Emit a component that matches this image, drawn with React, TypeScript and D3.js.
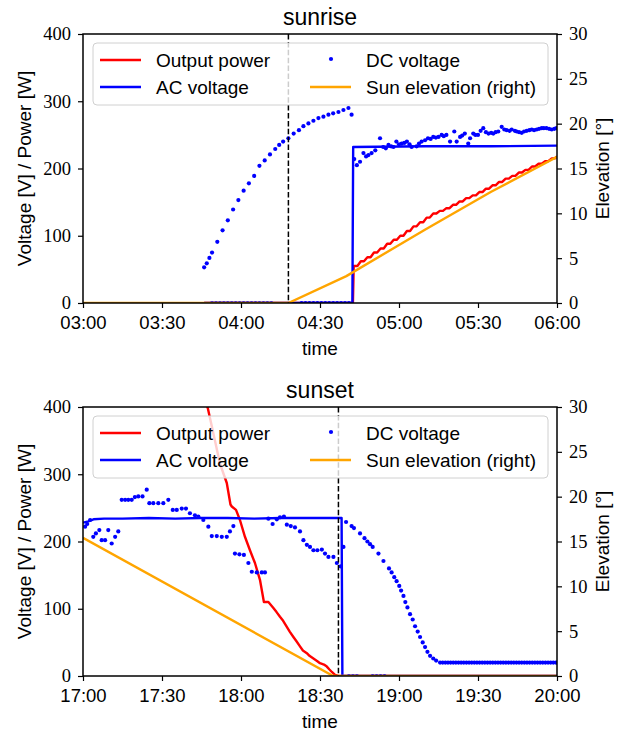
import React, { useEffect, useRef } from 'react'
import * as d3 from 'd3'

type Pt = [number, number]

// times are minutes after the start of each 3-hour window (03:00 and 17:00)
const sunriseOutputPower: Pt[] = [
	[46, 0], [102.5, 0], [102.8, 55], [104.2, 55], [105.5, 62], [106.7, 62], [108, 68], [109.2, 68], [110.5, 75], [111.7, 75],
	[113, 81], [114.2, 81], [115.5, 88], [116.7, 88], [118, 94], [119.2, 94], [120.5, 100], [121.7, 100], [123, 107], [124.2, 107],
	[125.5, 114], [126.7, 114], [128, 120], [129.2, 120], [130.5, 127], [131.7, 127], [133, 133], [134.2, 133], [135.5, 137], [136.7, 137],
	[138, 141], [139.2, 141], [140.5, 146], [141.7, 146], [143, 151], [144.2, 151], [145.5, 156], [146.7, 156], [148, 160], [149.2, 160],
	[150.5, 165], [151.7, 165], [153, 170], [154.2, 170], [155.5, 175], [156.7, 175], [158, 180], [159.2, 180], [160.5, 185], [161.7, 185],
	[163, 189], [164.2, 189], [165.5, 194], [166.7, 194], [168, 198], [169.2, 198], [170.5, 203], [171.7, 203], [173, 207], [174.2, 207],
	[175.5, 211], [176.7, 211], [178, 215], [179.2, 215], [180, 218],
]
const sunriseAcVoltage: Pt[] = [[46, 0], [102.3, 0], [102.6, 232], [130, 233], [155, 233], [180, 234]]
const sunriseDcVoltage: Pt[] = [
	[46, 53], [47, 59], [48, 67], [49, 75], [51, 91], [53, 108], [55, 123], [57, 139], [59, 153], [61, 167],
	[63, 178], [65, 189], [67, 204], [69, 212], [71, 221], [73, 229], [74.5, 235], [76, 240], [78, 245], [80, 252],
	[82, 257], [83.7, 263], [85.6, 267], [87.5, 271], [89.4, 275], [91.3, 277], [93.2, 280], [95, 282], [97, 284], [98.9, 287],
	[100.8, 290], [102, 280], [103, 214], [104, 205], [105.2, 210], [106.5, 223], [107.5, 218], [108.4, 220], [109.6, 223], [111, 227],
	[112.8, 245], [114, 232], [115, 230], [116, 235], [117, 233], [117.9, 232], [119, 240], [120, 236], [121, 237], [122, 238],
	[123, 240], [124, 236], [124.8, 232], [126.7, 233], [127.6, 237], [128.6, 240], [129.9, 242], [131, 245], [132, 244], [133, 247],
	[134, 246], [135, 247], [136.2, 250], [137, 248], [138, 250], [139.4, 240], [141, 255], [141.9, 240], [143.2, 247], [144, 249],
	[145, 252], [146.3, 237], [147, 245], [148.2, 252], [149, 250], [150, 250], [151, 256], [152, 260], [153, 254], [154, 252],
	[155, 253], [155.8, 252], [156.7, 254], [157.7, 255], [159, 262], [160, 258], [160.9, 257], [162, 256], [162.8, 258], [164, 256],
	[164.7, 255], [165.6, 254], [166.6, 253], [167.5, 255], [168.5, 256], [169.5, 257], [170.4, 258], [171.3, 257], [172.3, 258], [173.2, 259],
	[174.2, 260], [175, 260], [176, 260], [177, 259], [178, 258], [179, 259], [179.8, 260],
]
// readings where the DC voltage was logged as 0
const sunriseDcOff = [49, 50.5, 52, 53.5, 55, 56.5, 58, 59.5, 61, 62.5, 64, 65.5, 67, 68.5, 70, 71.5, 83, 84.5, 86, 87.5, 89, 90.5, 92, 93.5, 95, 96.5, 98, 99.5, 101]
const sunriseElevation: Pt[] = [[0, 0], [78, 0], [100, 3.0], [130, 8.2], [155, 12.4], [180, 16.3]]
const sunriseMark = 78

const sunsetOutputPower: Pt[] = [
	[30, 640], [40, 500], [47.4, 398], [49.5, 361], [52, 316], [54.6, 287], [56, 255], [56.5, 252], [58.1, 247], [59.6, 232],
	[61.5, 207], [63.4, 187], [65.3, 168], [67.2, 143], [68.7, 110], [70.4, 110], [72.3, 101], [73.5, 95], [74.8, 88], [76, 82],
	[77.4, 73], [78.5, 66], [79.9, 58], [81, 52], [82.4, 44], [83.5, 38], [85, 34], [86, 30], [87.5, 26], [89, 22],
	[90, 19], [91.5, 17], [92.6, 14], [93.5, 10], [94.5, 6], [95.7, 1.5], [97, 0], [180, 0],
]
const sunsetAcVoltage: Pt[] = [
	[0, 228], [2, 230], [4, 233], [8, 234], [15, 234], [25, 235], [35, 234], [45, 235], [55, 235], [65, 234],
	[75, 235], [85, 235], [98.2, 235], [98.5, 0], [180, 0],
]
const sunsetDcVoltage: Pt[] = [
	[0.8, 222], [1.6, 226], [2.7, 232], [3.9, 207], [4.9, 212], [6.2, 217], [7.1, 202], [8.4, 202], [9.6, 217], [10.9, 197],
	[12.2, 207], [13.4, 215], [14.7, 262], [16, 262], [17.2, 262], [18.5, 262], [19.7, 266], [21, 267], [22.6, 267], [24.2, 277],
	[25.2, 257], [26.7, 257], [28.6, 257], [30.5, 257], [32.4, 262], [34.1, 247], [35.6, 247], [37.5, 249], [39.1, 249], [40.6, 242],
	[42.5, 239], [43.8, 237], [45.7, 232], [47.6, 222], [48.9, 208], [50.8, 208], [52.7, 207], [54.6, 207], [55.8, 215], [57.1, 223],
	[57.7, 182], [59.4, 181], [61.1, 180], [62.8, 168], [64.1, 155], [66, 154], [67.9, 154], [69.1, 154], [70.4, 234], [72, 226],
	[73.6, 233], [74.8, 236], [76.3, 237], [77.4, 225], [78.9, 223], [80.5, 221], [82.4, 215], [83.7, 202], [85, 195], [86.2, 192],
	[87.5, 187], [89, 187], [90.7, 188], [91.9, 182], [93.2, 177], [95.1, 177], [96.4, 168], [97.9, 163], [98.9, 192], [99.9, 229],
	[102, 223], [102.9, 220], [105.2, 212], [106.9, 205], [108, 200], [109, 196], [110, 192], [112.2, 182], [114.1, 171], [116.2, 160],
	[117.2, 154], [118.2, 147], [119.1, 141], [120.1, 134], [120.8, 127], [121.7, 119], [122.4, 110], [123.2, 102], [124.2, 92], [125.2, 84],
	[126.1, 74], [127.1, 66], [128, 58], [129, 50], [129.9, 43], [130.8, 36], [131.8, 30], [133, 26], [134.1, 23], [135.6, 20],
	[136.6, 20], [137.6, 20], [138.6, 20], [139.6, 20], [140.6, 20], [141.6, 20], [142.6, 20], [143.6, 20], [144.6, 20], [145.6, 20],
	[146.6, 20], [147.6, 20], [148.6, 20], [149.6, 20], [150.6, 20], [151.6, 20], [152.6, 20], [153.6, 20], [154.6, 20], [155.6, 20],
	[156.6, 20], [157.6, 20], [158.6, 20], [159.6, 20], [160.6, 20], [161.6, 20], [162.6, 20], [163.6, 20], [164.6, 20], [165.6, 20],
	[166.6, 20], [167.6, 20], [168.6, 20], [169.6, 20], [170.6, 20], [171.6, 20], [172.6, 20], [173.6, 20], [174.6, 20], [175.6, 20],
	[176.6, 20], [177.6, 20], [178.6, 20], [179.6, 20],
]
const sunsetDcOff = [101, 102.5, 104, 110, 111.5, 113, 114.5]
const sunsetElevation: Pt[] = [[0, 15.4], [95, 0], [180, 0]]
const sunsetMark = 97

const leftTicks = [0, 100, 200, 300, 400]
const rightTicks = [0, 5, 10, 15, 20, 25, 30]
const legendLabels = ['Output power', 'AC voltage', 'DC voltage', 'Sun elevation (right)']

const SANS = 'Liberation Sans, Arial, Helvetica, sans-serif'
const SERIF = 'Liberation Serif, Times New Roman, serif'
const LEFT = 83, RIGHT = 557
const LW = 2.4

function drawPanel(svg, p) {
	const start = new Date(2021, 5, 1, p.startHour, 0)
	const t = (m: number) => new Date(start.getTime() + m * 60000)
	const x = d3.scaleTime().domain([t(0), t(180)]).range([LEFT, RIGHT])
	const y = d3.scaleLinear().domain([0, 400]).range([p.bottom, p.top])
	const y2 = d3.scaleLinear().domain([0, 30]).range([p.bottom, p.top])

	const g = svg.append('g')
	const clipId = 'clip-' + p.key
	g.append('clipPath').attr('id', clipId)
		.append('rect').attr('x', LEFT).attr('y', p.top).attr('width', RIGHT - LEFT).attr('height', p.bottom - p.top)

	const plot = g.append('g').attr('clip-path', `url(#${clipId})`)
	const line = d3.line<Pt>().x(d => x(t(d[0]))).y(d => y(d[1]))
	const line2 = d3.line<Pt>().x(d => x(t(d[0]))).y(d => y2(d[1]))

	plot.append('path').datum(p.power).attr('d', line)
		.attr('fill', 'none').attr('stroke', '#ff0000').attr('stroke-width', LW).attr('stroke-linejoin', 'round')
	plot.append('path').datum(p.ac).attr('d', line)
		.attr('fill', 'none').attr('stroke', '#0000ff').attr('stroke-width', LW).attr('stroke-linejoin', 'round')

	const dots: Pt[] = p.dc.concat(p.dcOff.map(m => [m, 0] as Pt))
	plot.selectAll('circle.dc').data(dots).join('circle')
		.attr('class', 'dc')
		.attr('cx', d => x(t(d[0])))
		.attr('cy', d => y(d[1]))
		.attr('r', 2.1)
		.attr('fill', '#0000ff')

	plot.append('path').datum(p.elevation).attr('d', line2)
		.attr('fill', 'none').attr('stroke', '#ffa500').attr('stroke-width', LW).attr('stroke-linejoin', 'round')

	// vertical marker
	g.append('line')
		.attr('x1', x(t(p.mark))).attr('x2', x(t(p.mark)))
		.attr('y1', p.top).attr('y2', p.bottom)
		.attr('stroke', '#000').attr('stroke-width', 1.5).attr('stroke-dasharray', '5.5,2.4')

	// axes
	const styleAxis = (a, family) => {
		a.select('.domain').remove()
		a.selectAll('line').attr('stroke', '#000').attr('stroke-width', 1.2)
		a.selectAll('text').attr('font-family', family).attr('font-size', 18.5).attr('fill', '#000')
	}
	const ax = g.append('g').attr('transform', `translate(0,${p.bottom})`)
		.call(d3.axisBottom(x).ticks(d3.timeMinute.every(30)).tickFormat(d3.timeFormat('%H:%M')).tickSize(5).tickPadding(8))
	styleAxis(ax, SANS)
	const ay = g.append('g').attr('transform', `translate(${LEFT},0)`)
		.call(d3.axisLeft(y).tickValues(leftTicks).tickFormat(d3.format('d')).tickSize(5).tickPadding(7))
	styleAxis(ay, SERIF)
	const ay2 = g.append('g').attr('transform', `translate(${RIGHT},0)`)
		.call(d3.axisRight(y2).tickValues(rightTicks).tickFormat(d3.format('d')).tickSize(5).tickPadding(7))
	styleAxis(ay2, SERIF)

	g.append('rect')
		.attr('x', LEFT).attr('y', p.top).attr('width', RIGHT - LEFT).attr('height', p.bottom - p.top)
		.attr('fill', 'none').attr('stroke', '#000').attr('stroke-width', 1.5)

	// titles and labels
	g.append('text').attr('x', (LEFT + RIGHT) / 2).attr('y', p.top - 9)
		.attr('text-anchor', 'middle').attr('font-family', SANS).attr('font-size', 23).text(p.title)
	g.append('text').attr('x', (LEFT + RIGHT) / 2).attr('y', p.bottom + 52)
		.attr('text-anchor', 'middle').attr('font-family', SANS).attr('font-size', 19).text('time')
	const midY = (p.top + p.bottom) / 2
	g.append('text').attr('transform', `translate(31,${midY}) rotate(-90)`)
		.attr('text-anchor', 'middle').attr('font-family', SANS).attr('font-size', 19).text('Voltage [V] / Power [W]')
	g.append('text').attr('transform', `translate(609,${midY}) rotate(-90)`)
		.attr('text-anchor', 'middle').attr('font-family', SANS).attr('font-size', 19).text('Elevation [°]')

	// legend
	const lg = g.append('g').attr('transform', `translate(0,${p.top})`)
	lg.append('rect').attr('x', 93).attr('y', 9).attr('width', 455).attr('height', 62).attr('rx', 4)
		.attr('fill', '#fff').attr('fill-opacity', 0.8).attr('stroke', '#d0d0d0').attr('stroke-width', 1)
	const rows = [26, 53]
	const entry = (i, hx, tx, color, kind) => {
		const ry = rows[i % 2]
		if (kind === 'line') {
			lg.append('line').attr('x1', hx).attr('x2', hx + 41).attr('y1', ry).attr('y2', ry)
				.attr('stroke', color).attr('stroke-width', LW)
		} else {
			lg.append('circle').attr('cx', hx + 21).attr('cy', ry - 1).attr('r', 2.1).attr('fill', color)
		}
		lg.append('text').attr('x', tx).attr('y', ry).attr('dy', '0.35em')
			.attr('font-family', SANS).attr('font-size', 19).text(legendLabels[i])
	}
	entry(0, 100, 156, '#ff0000', 'line')
	entry(1, 100, 156, '#0000ff', 'line')
	entry(2, 310, 366, '#0000ff', 'dot')
	entry(3, 310, 366, '#ffa500', 'line')
}

const App = () => {
	const ref = useRef<SVGSVGElement>(null)

	useEffect(() => {
		const svg = d3.select(ref.current)
		svg.selectAll('*').remove()
		drawPanel(svg, {
			key: 'rise', title: 'sunrise', startHour: 3, top: 34, bottom: 303,
			power: sunriseOutputPower, ac: sunriseAcVoltage, dc: sunriseDcVoltage, dcOff: sunriseDcOff,
			elevation: sunriseElevation, mark: sunriseMark,
		})
		drawPanel(svg, {
			key: 'set', title: 'sunset', startHour: 17, top: 407, bottom: 676,
			power: sunsetOutputPower, ac: sunsetAcVoltage, dc: sunsetDcVoltage, dcOff: sunsetDcOff,
			elevation: sunsetElevation, mark: sunsetMark,
		})
	}, [])

	return (
		<svg
			ref={ref}
			width={621}
			height={733}
			style={{ position: 'absolute', left: 0, top: 0, background: '#fff' }}
		></svg>
	)
}

export default App
